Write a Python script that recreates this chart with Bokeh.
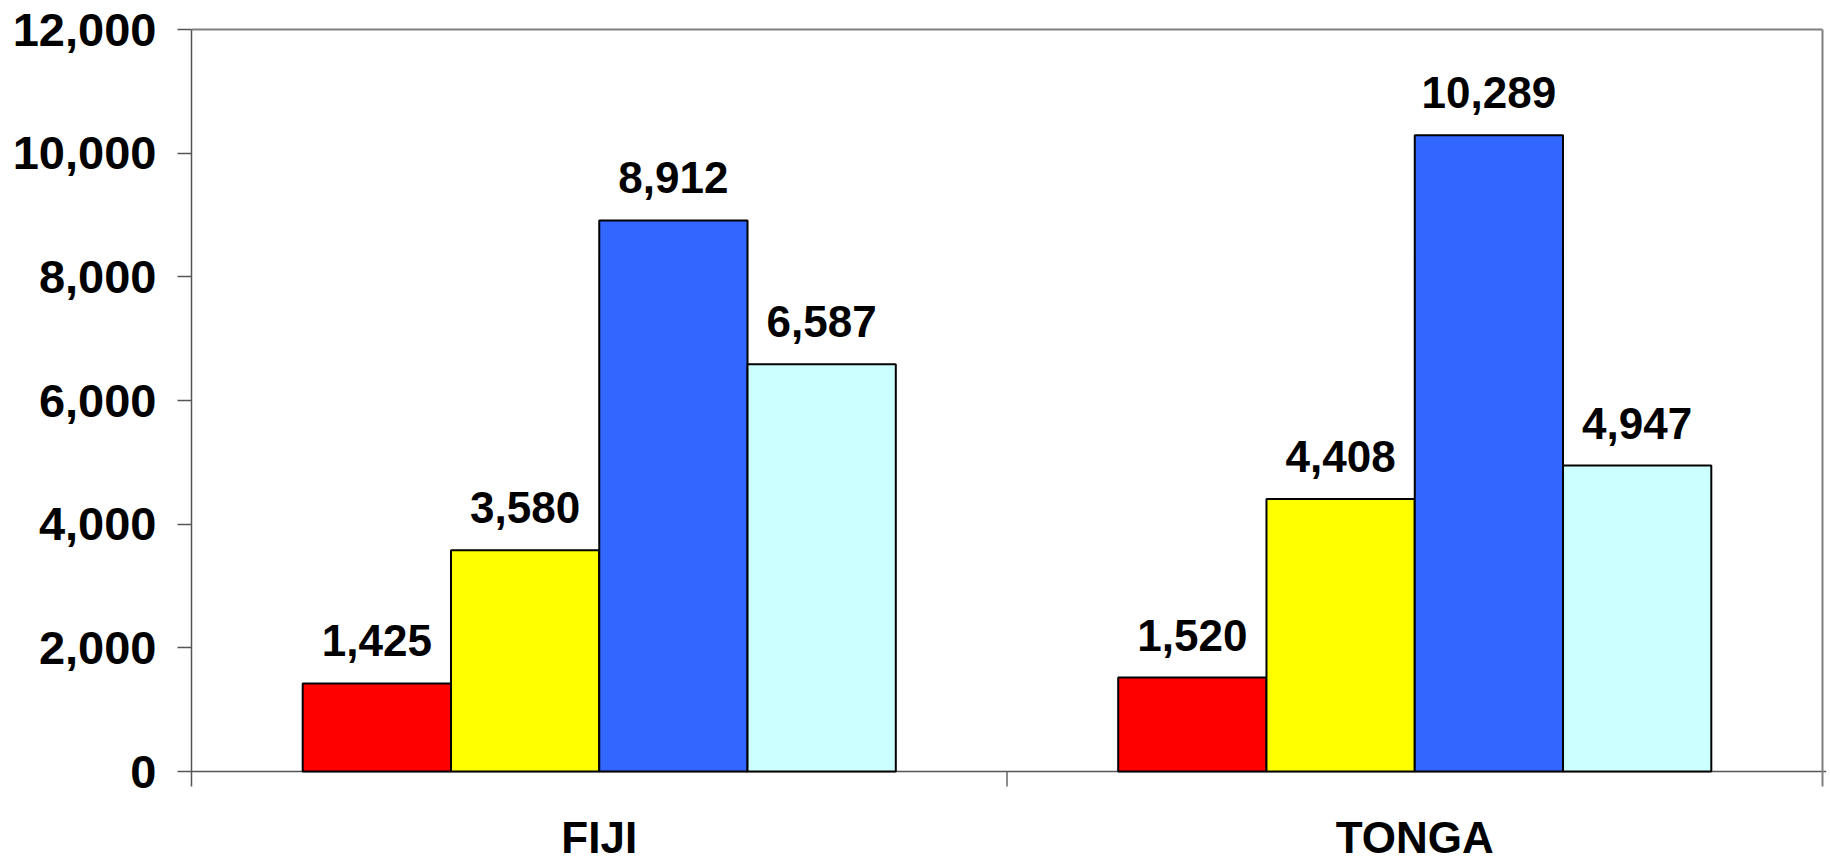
from bokeh.plotting import figure
from bokeh.models import (ColumnDataSource, FixedTicker, NumeralTickFormatter,
                          LabelSet, Label, Range1d, Span)
from bokeh.core.properties import value
from bokeh.embed import file_html
from bokeh.resources import INLINE

# Data
countries = ["FIJI", "TONGA"]
series_colors = ["#FF0000", "#FFFF00", "#3366FF", "#CCFFFF"]
fiji_values = [1425, 3580, 8912, 6587]
tonga_values = [1520, 4408, 10289, 4947]
y_ticks = [0, 2000, 4000, 6000, 8000, 10000, 12000]

FONT = "Liberation Sans"
W, H = 1830, 857

# Page geometry (pixels): plotting area from x=191..1822, value 12000 at y=29, zero at y=771
LEFT, RIGHT, TOP, ZERO = 191, 1822, 29, 771
Y_MAX = y_ticks[-1]
n_cat = len(countries)
upp_y = Y_MAX / (ZERO - TOP)          # data units per pixel, vertical
upp_x = n_cat / (RIGHT - LEFT)        # data units per pixel, horizontal
PAD = 4                               # room so the frame edge lines are not clipped
TICK = 15                             # category tick length below the axis

# Clustered bar layout: four bars per country, gap of 1.5 bar widths
n_series = len(series_colors)
gap_ratio = 1.5
bar_w = 1.0 / (n_series + gap_ratio)

xs, tops, fills, texts = [], [], [], []
for ci, vals in enumerate([fiji_values, tonga_values]):
    for si, v in enumerate(vals):
        xs.append(ci + 0.5 + (si - (n_series - 1) / 2) * bar_w)
        tops.append(v)
        fills.append(series_colors[si])
        texts.append(f"{v:,}")

src = ColumnDataSource(dict(x=xs, top=tops, color=fills, label=texts))

p = figure(width=W, height=H, output_backend="svg", toolbar_location=None,
           x_range=Range1d(0, n_cat + PAD * upp_x),
           y_range=Range1d(-(H - ZERO) * upp_y, Y_MAX + PAD * upp_y),
           x_axis_location=None,
           min_border_left=LEFT, min_border_right=W - RIGHT - PAD,
           min_border_top=TOP - PAD, min_border_bottom=0)

p.xgrid.visible = False
p.ygrid.visible = False
p.outline_line_color = None
p.background_fill_color = "white"
p.border_fill_color = "white"

# Category axis line at zero
p.add_layout(Span(location=0, dimension="width", line_color="#555555",
                  line_width=1.5, level="underlay"))

# Tick marks at category boundaries
tick_low = -TICK * upp_y
p.segment(x0=[1], y0=[0], x1=[1], y1=[tick_low], line_color="#666666",
          line_width=1.5)

# Plot-area border on top and right
p.segment(x0=[0, n_cat], y0=[Y_MAX, Y_MAX], x1=[n_cat, n_cat], y1=[Y_MAX, tick_low],
          line_color="#808080", line_width=2)

p.vbar(x="x", top="top", bottom=0, width=bar_w, source=src,
       fill_color="color", line_color="black", line_width=2)

labels = LabelSet(x="x", y="top", text="label", source=src,
                  text_align="center", text_baseline="alphabetic",
                  y_offset=27, text_font=value(FONT), text_font_size="44px",
                  text_font_style="bold", text_color="black")
p.add_layout(labels)

# Category names centred under each group
for i, name in enumerate(countries):
    p.add_layout(Label(x=i + 0.5, y=0, y_offset=-66, text=name,
                       text_align="center", text_baseline="alphabetic",
                       text_font=FONT, text_font_size="44px",
                       text_font_style="bold", text_color="black"))

# Y axis
p.yaxis.ticker = FixedTicker(ticks=y_ticks)
p.yaxis.bounds = (tick_low, Y_MAX)
p.yaxis.formatter = NumeralTickFormatter(format="0,0")
p.yaxis.major_tick_out = 14
p.yaxis.major_tick_in = 0
p.yaxis.minor_tick_out = 0
p.yaxis.minor_tick_in = 0
p.yaxis.major_label_standoff = 21
p.yaxis.axis_line_color = "#555555"
p.yaxis.axis_line_width = 1.5
p.yaxis.major_tick_line_color = "#555555"
p.yaxis.major_tick_line_width = 1.5
p.yaxis.major_label_text_font = FONT
p.yaxis.major_label_text_font_size = "47px"
p.yaxis.major_label_text_font_style = "bold"
p.yaxis.major_label_text_color = "black"

open("out.html", "w").write(file_html(p, INLINE))
